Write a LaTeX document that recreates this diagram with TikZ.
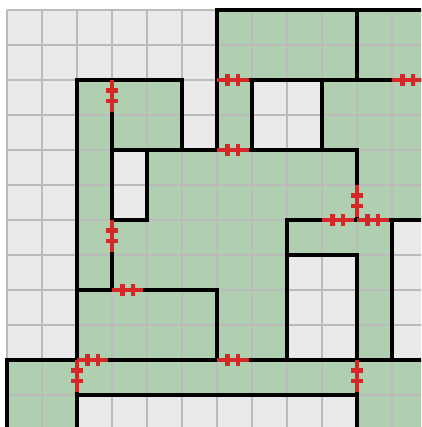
\documentclass[tikz,border=0pt]{standalone}
\usetikzlibrary{arrows.meta, positioning}
\definecolor{cfloor}{HTML}{EAEAEA}
\definecolor{cgreen}{HTML}{B0CFB0}
\definecolor{cgridline}{HTML}{BBBBBB}
\definecolor{cred}{HTML}{D62728}
\tikzset{
  wall/.style={black, line width=3.3pt, line cap=rect, line join=miter},
  door/.style={cred, line width=3.3pt},
  cellgrid/.style={cgridline, line width=1pt},
  room/.style={fill=cgreen},
}

\begin{document}
\begin{tikzpicture}[yscale=-1]
  % page frame and margins
  \fill[white] (-0.2,-0.286) rectangle (11.829,11.914);
  \clip (-0.2,-0.286) rectangle (11.829,11.914);
  \fill[cfloor] (0,0) rectangle (12,12);
  % green rooms
  \foreach \a/\b/\c/\d in {6/0/12/2, 2/2/5/4, 6/2/7/4, 9/2/12/4, 2/2/3/10, 4/4/12/6,
      3/6/11/7, 3/7/8/10, 10/7/11/10, 0/10/12/11, 0/11/2/12, 10/11/12/12}
    \fill[room] (\a,\b) rectangle (\c,\d);
  \draw[cellgrid] (0,0) grid (12,12);
  % walls
  \draw[wall] (6,4) -- (6,0) -- (12,0);
  \draw[wall] (10,0) -- (10,2);
  \draw[wall] (6,2) -- (12,2);
  \draw[wall] (7,2) -- (7,4);
  \draw[wall] (9,2) -- (9,4);
  \draw[wall] (3,4) -- (10,4) -- (10,6);
  \draw[wall] (8,10) -- (8,6) -- (12,6);
  \draw[wall] (8,7) -- (10,7) -- (10,12);
  \draw[wall] (11,6) -- (11,10);
  \draw[wall] (2,12) -- (2,2) -- (5,2) -- (5,4);
  \draw[wall] (3,2) -- (3,8);
  \draw[wall] (3,6) -- (4,6) -- (4,4);
  \draw[wall] (2,8) -- (6,8) -- (6,10);
  \draw[wall] (0,12) -- (0,10) -- (12,10);
  \draw[wall] (2,11) -- (10,11);
  % doors
  \foreach \x/\y in {6/2, 11/2, 6/4, 9/6, 10/6, 3/8, 2/10, 6/10} {
    \draw[door] (\x,\y) -- ++(0.9,0);
    \foreach \t in {0.3,0.6} \draw[door] (\x+\t,\y-0.17) -- ++(0,0.34);
  }
  \foreach \x/\y in {3/2, 10/5, 3/6, 2/10, 10/10} {
    \draw[door] (\x,\y) -- ++(0,0.9);
    \foreach \t in {0.3,0.6} \draw[door] (\x-0.17,\y+\t) -- ++(0.34,0);
  }
\end{tikzpicture}
\end{document}
